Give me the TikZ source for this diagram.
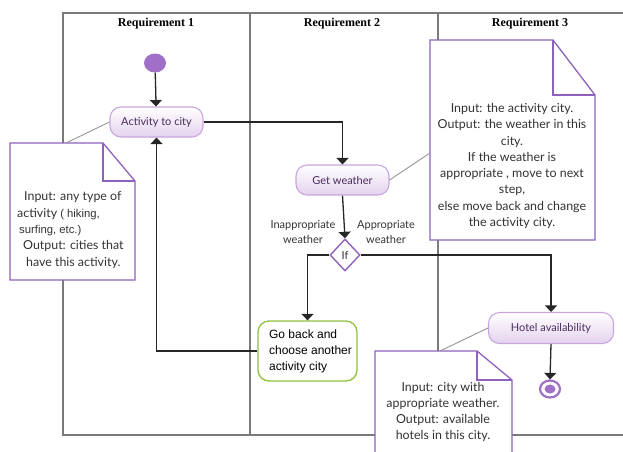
\documentclass[tikz,border=0pt]{standalone}
\usepackage{fontspec}
\setmainfont{Lato}
\newfontfamily\arialf{Liberation Sans}
\newfontfamily\timesf{Liberation Serif}
\usetikzlibrary{arrows.meta,shapes.geometric}
\definecolor{lanegray}{HTML}{7A7A7A}
\definecolor{notepurple}{HTML}{8E62BC}
\definecolor{boxpurple}{HTML}{C9A6DE}
\definecolor{boxfill}{HTML}{E4D2EE}
\definecolor{boxtext}{HTML}{4A2C5E}
\definecolor{dotpurple}{HTML}{A070C8}
\definecolor{gobackgreen}{HTML}{8DC23F}
\definecolor{linedark}{HTML}{262626}
\definecolor{notetext}{HTML}{333333}
\tikzset{
  lane/.style={draw=lanegray, line width=1.1pt},
  header/.style={font=\timesf\bfseries\fontsize{12}{14}\selectfont, anchor=center},
  activity/.style={rounded corners=11pt, draw=boxpurple, line width=1.1pt,
    top color=white, bottom color=boxfill, text=boxtext,
    font=\fontsize{11}{13}\selectfont, inner sep=0pt, anchor=center},
  notebox/.style={draw=notepurple, line width=1.3pt, fill=white, line join=miter},
  notefold/.style={draw=notepurple, line width=1.3pt},
  notetxt/.style={text=notetext, font=\fontsize{12.4}{16.3}\selectfont, align=center, inner sep=0pt},
  noteline/.style={draw=lanegray!80, line width=0.9pt},
  flow/.style={draw=linedark, line width=1.3pt, -{Triangle[width=12pt,length=6.5pt]}},
  guard/.style={text=notetext, font=\fontsize{11}{15}\selectfont, align=center, inner sep=0pt},
}
\begin{document}
\begin{tikzpicture}[x=1pt,y=-1pt]
\useasboundingbox (0,0) rectangle (623,451);

% swimlanes
\draw[lane] (623,13) -- (63,13) -- (63,435) -- (623,435);
\draw[lane] (250,13) -- (250,435);
\draw[lane] (438,13) -- (438,435);
\node[header] (h1) at (156,24) {Requirement 1};
\node[header] (h2) at (342,24) {Requirement 2};
\node[header] (h3) at (530,24) {Requirement 3};

% note: activity to city
\path[notebox] (10,143) -- (103,143) -- (135,181) -- (135,280) -- (10,280) -- cycle;
\draw[notefold] (103,143) -- (103,181) -- (135,181);
\node[notetxt, align=left, anchor=west] (note1) at (17,230) {\hspace{7pt}Input: any type of\\
activity {\arialf\fontsize{11.3}{16.3}\selectfont( hiking,}\\
\hspace{2pt}{\arialf\fontsize{11.3}{16.3}\selectfont surfing, etc.)}\\
\hspace{6pt}Output: cities that\\
\hspace{9pt}have this activity.};
\coordinate (note1-top) at (66,143);

% note: get weather
\path[notebox] (430,40) -- (553,40) -- (595,95) -- (595,240) -- (430,240) -- cycle;
\draw[notefold] (553,40) -- (553,95) -- (595,95);
\node[notetxt] (note2) at (512,166) {Input: the activity city.\\
Output: the weather in this\\ city.\\ If the weather is\\
appropriate , move to next\\ step,\\ else move back and change\\ the activity city.};
\coordinate (note2-left) at (430,153);

% note: hotel availability
\path[notebox] (375,351) -- (477,351) -- (512,380) -- (512,470) -- (375,470) -- cycle;
\draw[notefold] (477,351) -- (477,380) -- (512,380);
\node[notetxt] (note3) at (443,412) {Input: city with\\ appropriate weather.\\
Output: available\\ hotels in this city.};
\coordinate (note3-top) at (440,351);

% activity nodes
\node[fill=dotpurple, ellipse, minimum width=22pt, minimum height=19pt, inner sep=0pt] (start) at (155,63) {};
\node[activity, minimum width=93pt, minimum height=30pt] (act) at (156.5,122) {Activity to city};
\node[activity, minimum width=93pt, minimum height=30pt] (gw) at (342.5,180) {Get weather};
\node[activity, minimum width=125pt, minimum height=31pt] (hotel) at (551,328) {Hotel availability};
\node[diamond, draw=notepurple, line width=1.4pt, fill=white, minimum width=30pt, minimum height=32pt, inner sep=0pt,
  font=\fontsize{11}{12}\selectfont, text=notetext] (if) at (345,255) {If};
\node[draw=gobackgreen, line width=1.3pt, rounded corners=11pt, fill=white, minimum width=99pt, minimum height=60pt,
  inner sep=0pt, align=left, font=\arialf\fontsize{12}{16}\selectfont, text=black] (goback) at (307.5,351)
  {\hspace*{6pt}Go back and\\ \hspace*{6pt}choose another\\ \hspace*{6pt}activity city};
\node[ellipse, draw=dotpurple, line width=2.2pt, fill=white, minimum width=20pt, minimum height=17pt, inner sep=0pt] (end) at (550,389) {};
\node[ellipse, fill=dotpurple, minimum width=11pt, minimum height=9pt, inner sep=0pt] (endcore) at (550,389) {};

% guard labels
\node[guard] (lblno) at (303,232) {Inappropriate\\ weather};
\node[guard] (lblyes) at (386,232) {Appropriate\\ weather};

% note attachments
\draw[noteline] (note1-top) -- (act.west);
\draw[noteline] (note2-left) -- (gw.east);
\draw[noteline] (note3-top) -- (hotel.west);

% control flow
\draw[flow] (start) -- (act);
\draw[flow] (act.east) -| (gw.north);
\draw[flow] (gw.south) -- (if.north);
\draw[flow] (if.west) -| (goback.north);
\draw[flow] (goback.west) -| (act.south);
\draw[flow] (if.east) -| (hotel.north);
\draw[flow] (hotel.south) -- (end.north);
\end{tikzpicture}
\end{document}
